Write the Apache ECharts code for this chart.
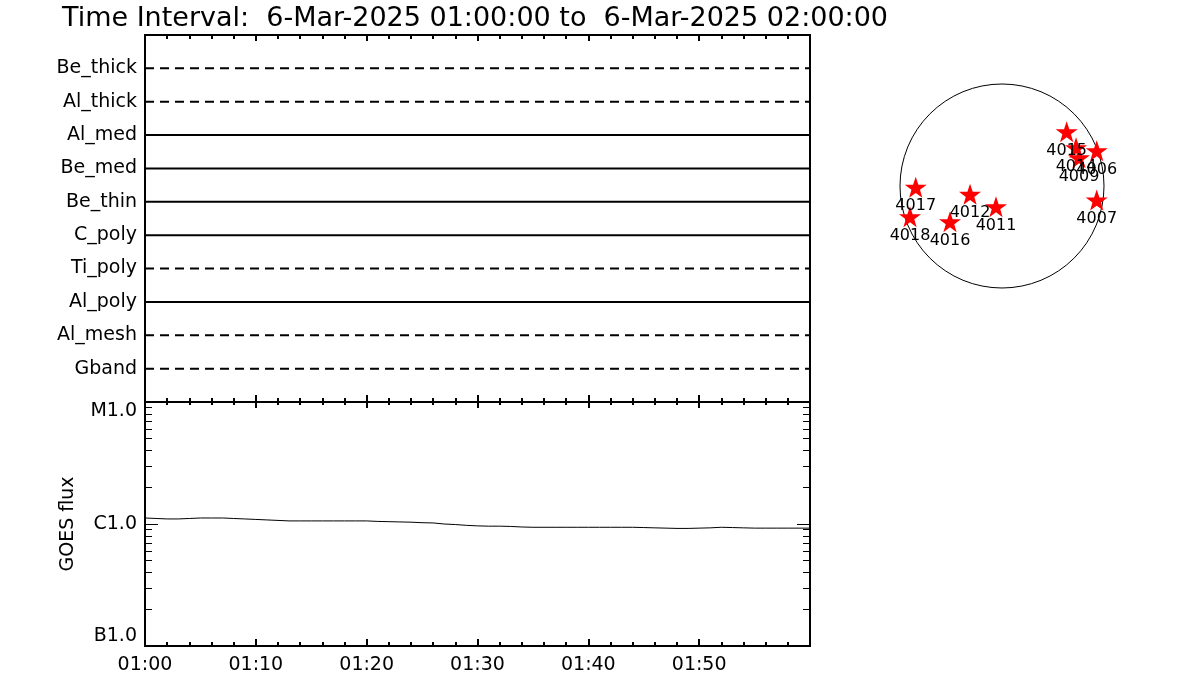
<!DOCTYPE html>
<html>
<head>
<meta charset="utf-8">
<script src="https://cdn.jsdelivr.net/npm/echarts@6.0.0/dist/echarts.min.js"></script>
<style>
html,body{margin:0;padding:0;background:#fff;}
#chart{width:1200px;height:700px;}
</style>
</head>
<body>
<div id="chart"></div>
<script>
// ---------------- data ----------------
const titleText = 'Time Interval:  6-Mar-2025 01:00:00 to  6-Mar-2025 02:00:00';

// XRT filters, bottom to top
const filterNames = ['Gband', 'Al_mesh', 'Al_poly', 'Ti_poly', 'C_poly', 'Be_thin', 'Be_med', 'Al_med', 'Al_thick', 'Be_thick'];
const filterUsed  = [false, false, true, false, true, true, true, true, false, false];

// time axis (minutes after 01:00)
const timeLabels = ['01:00', '01:10', '01:20', '01:30', '01:40', '01:50'];

// GOES flux (W/m^2), one value per minute
const goesMinutes = [0,1,2,3,4,5,6,7,8,9,10,11,12,13,14,15,16,17,18,19,20,21,22,23,24,25,26,27,28,29,30,31,32,33,34,35,36,37,38,39,40,41,42,43,44,45,46,47,48,49,50,51,52,53,54,55,56,57,58,59,60];
const goesFlux = [
  1.12e-6, 1.11e-6, 1.10e-6, 1.10e-6, 1.11e-6, 1.12e-6, 1.12e-6, 1.12e-6, 1.11e-6, 1.10e-6,
  1.09e-6, 1.08e-6, 1.07e-6, 1.06e-6, 1.06e-6, 1.06e-6, 1.06e-6, 1.06e-6, 1.06e-6, 1.06e-6,
  1.06e-6, 1.05e-6, 1.045e-6, 1.04e-6, 1.035e-6, 1.025e-6, 1.02e-6, 1.00e-6, 0.99e-6, 0.975e-6,
  0.965e-6, 0.96e-6, 0.96e-6, 0.955e-6, 0.945e-6, 0.94e-6, 0.94e-6, 0.94e-6, 0.94e-6, 0.94e-6,
  0.94e-6, 0.94e-6, 0.94e-6, 0.94e-6, 0.94e-6, 0.935e-6, 0.93e-6, 0.925e-6, 0.92e-6, 0.92e-6,
  0.925e-6, 0.93e-6, 0.94e-6, 0.935e-6, 0.93e-6, 0.925e-6, 0.925e-6, 0.925e-6, 0.925e-6, 0.925e-6,
  0.925e-6
];
const fluxTickValues = [1e-7, 1e-6, 1e-5];
const fluxTickLabels = ['B1.0', 'C1.0', 'M1.0'];
const fluxMinorValues = [2e-7,3e-7,4e-7,5e-7,6e-7,7e-7,8e-7,9e-7,2e-6,3e-6,4e-6,5e-6,6e-6,7e-6,8e-6,9e-6];

// active regions on the solar disk (arcsec from disk centre)
const solarRadius = 967;
const regionIds = ['4015', '4014', '4009', '4006', '4007', '4017', '4018', '4016', '4012', '4011'];
const regionX   = [ 613,  702,  730,  898,  898, -818, -872, -493, -303,  -57];
const regionY   = [ 515,  363,  268,  335, -133,  -12, -291, -338,  -79, -196];

// ---------------- chart ----------------
const FONT = 'DejaVu Sans';
const black = '#000';
const starPath = 'path://M50,0 L61.8,35.1 L98.9,35.1 L69,57.3 L79.4,91.9 L50,70.5 L20.6,91.9 L31,57.3 L1.1,35.1 L38.2,35.1 Z';

function timeAxis(grid, pos, majorLen, minorLen, showLabel) {
  return {
    type: 'value', gridIndex: grid, position: pos, min: 0, max: 60, interval: 10,
    axisLine: { show: false },
    axisTick: { show: true, inside: true, length: majorLen, lineStyle: { color: black, width: 2 } },
    minorTick: { show: true, splitNumber: 5, length: minorLen, lineStyle: { color: black, width: 2 } },
    splitLine: { show: false }, minorSplitLine: { show: false },
    axisLabel: {
      show: showLabel, margin: 10, color: black, fontFamily: FONT, fontSize: 19,
      formatter: v => timeLabels[Math.round(v / 10)] || ''
    }
  };
}

function fluxAxis(pos, major) {
  const ax = {
    type: 'log', logBase: 10, gridIndex: 1, position: pos, min: 1e-7, max: 1e-5,
    axisLine: { show: false },
    splitLine: { show: false },
    axisTick: {
      show: true, inside: true, length: major ? 13 : 7,
      lineStyle: { color: black, width: 1 },
      customValues: major ? fluxTickValues : fluxMinorValues
    },
    axisLabel: { show: false }
  };
  if (major && pos === 'left') {
    ax.axisLabel = {
      show: true, margin: 8, color: black, fontFamily: FONT, fontSize: 19,
      customValues: fluxTickValues,
      verticalAlignMinLabel: 'bottom',
      verticalAlignMaxLabel: 'top',
      formatter: v => fluxTickLabels[Math.round(Math.log10(v)) + 7] || ''
    };
    ax.name = 'GOES flux';
    ax.nameLocation = 'middle';
    ax.nameGap = 67;
    ax.nameTextStyle = { color: black, fontFamily: FONT, fontSize: 19 };
  }
  return ax;
}

const series = [];
filterNames.forEach((name, i) => {
  series.push({
    name: name, type: 'line', xAxisIndex: 0, yAxisIndex: 0,
    data: [[0, i + 1], [60, i + 1]],
    symbol: 'none', silent: true, animation: false,
    lineStyle: { color: black, width: 2, type: filterUsed[i] ? 'solid' : [9, 6] }
  });
});
series.push({
  name: 'GOES', type: 'line', xAxisIndex: 2, yAxisIndex: 1,
  data: goesMinutes.map((m, i) => [m, goesFlux[i]]),
  symbol: 'none', animation: false,
  lineStyle: { color: black, width: 1 }
});
series.push({
  name: 'disk', type: 'custom', xAxisIndex: 4, yAxisIndex: 5,
  clip: false, animation: false, silent: true,
  data: [[0, 0]],
  renderItem: (params, api) => {
    const c = api.coord([0, 0]);
    const r = api.size([solarRadius, 0])[0];
    return { type: 'circle', shape: { cx: c[0], cy: c[1], r: r },
             style: { fill: 'none', stroke: black, lineWidth: 1 } };
  }
});
series.push({
  name: 'regions', type: 'scatter', xAxisIndex: 4, yAxisIndex: 5,
  clip: false, animation: false,
  data: regionX.map((x, i) => [x, regionY[i]]),
  symbol: starPath, symbolSize: [22, 21],
  itemStyle: { color: '#ff0000', opacity: 1 },
  label: {
    show: true, position: 'inside', offset: [0, 19],
    color: black, fontFamily: FONT, fontSize: 16,
    textBorderWidth: 0, textShadowBlur: 0,
    formatter: p => regionIds[p.dataIndex]
  }
});

const option = {
  backgroundColor: '#fff',
  animation: false,
  title: {
    text: titleText, left: 62, top: 5, padding: 0,
    textStyle: { color: black, fontFamily: FONT, fontSize: 27, fontWeight: 'normal' }
  },
  grid: [
    { left: 145, top: 35, width: 665, height: 367, show: true, borderColor: black, borderWidth: 2, backgroundColor: 'transparent' },
    { left: 145, top: 402, width: 665, height: 244, show: true, borderColor: black, borderWidth: 2, backgroundColor: 'transparent' },
    { left: 900, top: 84, width: 204, height: 204, show: false }
  ],
  xAxis: [
    timeAxis(0, 'bottom', 7, 4, false),
    timeAxis(0, 'top', 6, 4, false),
    timeAxis(1, 'bottom', 7, 4, true),
    timeAxis(1, 'top', 6, 3, false),
    { type: 'value', gridIndex: 2, min: -solarRadius, max: solarRadius, show: false }
  ],
  yAxis: [
    {
      type: 'value', gridIndex: 0, min: 0, max: 11, interval: 1, position: 'left',
      axisLine: { show: false }, axisTick: { show: false }, splitLine: { show: false },
      axisLabel: {
        margin: 8, color: black, fontFamily: FONT, fontSize: 19,
        formatter: v => filterNames[v - 1] || ''
      }
    },
    fluxAxis('left', true),
    fluxAxis('left', false),
    fluxAxis('right', true),
    fluxAxis('right', false),
    { type: 'value', gridIndex: 2, min: -solarRadius, max: solarRadius, show: false }
  ],
  series: series
};

const chart = echarts.init(document.getElementById('chart'), null, { renderer: 'canvas' });
chart.setOption(option);
</script>
</body>
</html>
